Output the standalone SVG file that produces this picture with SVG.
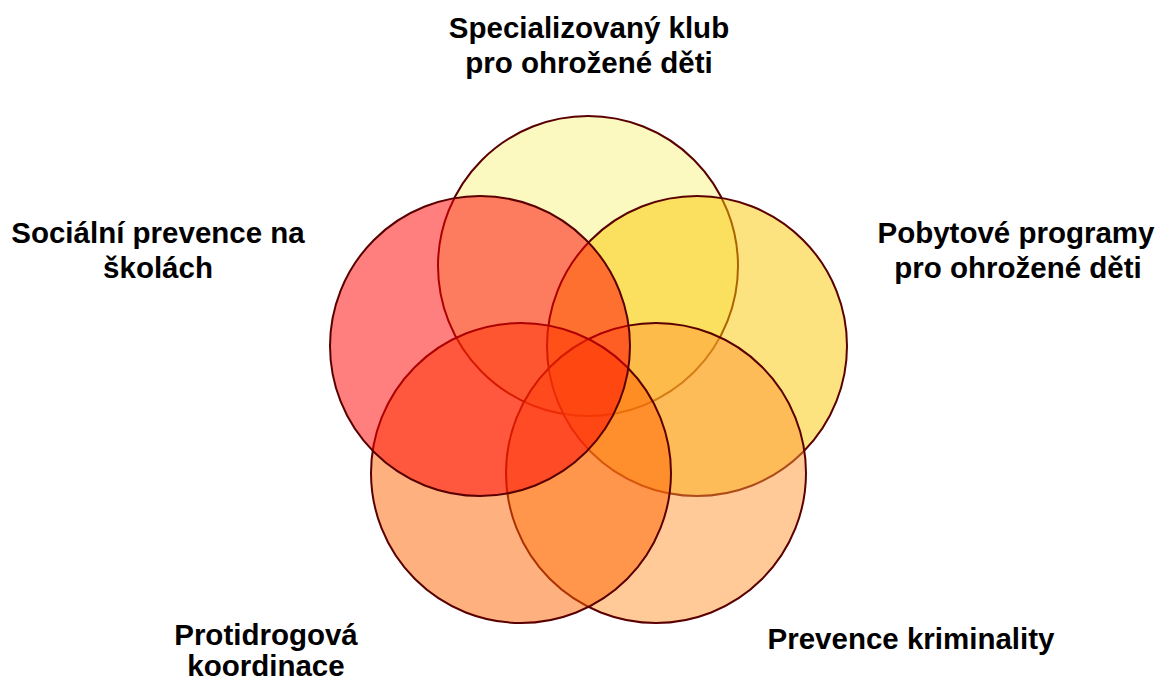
<svg xmlns="http://www.w3.org/2000/svg" width="1158" height="682" viewBox="0 0 1158 682">
<style>
.c{fill-opacity:0.5;stroke:#5a0000;stroke-width:2}
.t{font-family:"Liberation Sans",Arial,sans-serif;font-weight:bold;font-size:29.5px;fill:#000;text-anchor:middle}
</style>
<rect width="1158" height="682" fill="#fff"/>
<g id="node-top"><circle class="c" cx="588" cy="266" r="150" fill="#F7F181"/></g>
<g id="node-right"><circle class="c" cx="697" cy="346" r="150" fill="#FBC700"/></g>
<g id="node-bottom-right"><circle class="c" cx="656" cy="473" r="150" fill="#FF9531"/></g>
<g id="node-bottom-left"><circle class="c" cx="521" cy="473" r="150" fill="#FF6100"/></g>
<g id="node-left"><circle class="c" cx="480" cy="346" r="150" fill="#FF0000"/></g>
<g id="labels">
<g id="label-top"><text class="t" x="589" y="38">Specializovaný klub</text><text class="t" x="589" y="73">pro ohrožené děti</text></g>
<g id="label-left"><text class="t" x="158" y="243">Sociální prevence na</text><text class="t" x="158" y="278">školách</text></g>
<g id="label-right"><text class="t" x="1016" y="243">Pobytové programy</text><text class="t" x="1018" y="278">pro ohrožené děti</text></g>
<g id="label-bottom-left"><text class="t" x="266" y="645">Protidrogová</text><text class="t" x="266" y="676">koordinace</text></g>
<g id="label-bottom-right"><text class="t" x="911" y="649">Prevence kriminality</text></g>
</g>
<g id="connectors"></g>
</svg>
